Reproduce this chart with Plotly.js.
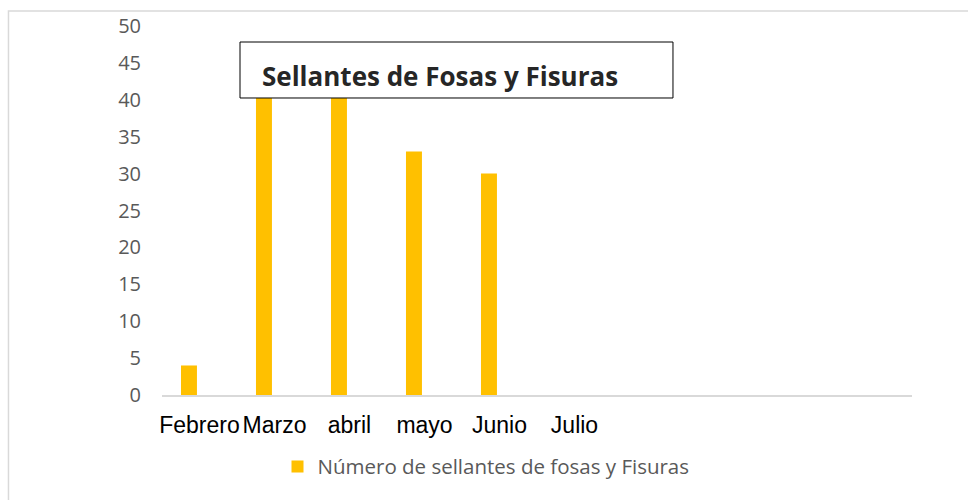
<!DOCTYPE html>
<html>
<head>
<meta charset="utf-8">
<script src="https://cdn.plot.ly/plotly-3.0.1.min.js"></script>
<style>
  html, body { margin: 0; padding: 0; background: #fff; }
  #chart { width: 968px; height: 500px; }
</style>
</head>
<body>
<div id="chart"></div>
<script>
// Data
const months = ["Febrero", "Marzo", "abril", "mayo", "Junio", "Julio"];
const sellantes = [4, 42, 42, 33, 30, null];
const seriesName = "Número de sellantes de fosas y Fisuras";
const chartTitle = "Sellantes de Fosas y Fisuras";
const yTicks = [0, 5, 10, 15, 20, 25, 30, 35, 40, 45, 50];

const trace = {
  type: "bar",
  x: months,
  y: sellantes,
  name: seriesName,
  marker: { color: "#FFC000" },
  width: 0.213,
  offset: -0.247,
  showlegend: true
};

const layout = {
  width: 968,
  height: 500,
  margin: { l: 162, r: 56, t: 26, b: 105 },
  paper_bgcolor: "#ffffff",
  plot_bgcolor: "#ffffff",
  showlegend: true,
  xaxis: {
    type: "category",
    categoryorder: "array",
    categoryarray: months,
    range: [-0.5, 9.5],
    showgrid: false,
    zeroline: false,
    showline: true,
    linecolor: "#d9d9d9",
    linewidth: 2,
    ticks: "",
    ticklabelstandoff: 8,
    tickfont: { family: "Liberation Sans, Arial, sans-serif", size: 23, color: "#000000" },
    fixedrange: true
  },
  yaxis: {
    range: [0, 50],
    tickvals: yTicks,
    showgrid: false,
    zeroline: false,
    showline: false,
    ticks: "",
    ticklabelstandoff: 20,
    tickfont: { family: "Open Sans, sans-serif", size: 20, color: "#595959" },
    fixedrange: true
  },
  legend: {
    orientation: "h",
    x: 0.154,
    xanchor: "left",
    y: -0.14,
    yanchor: "top",
    font: { family: "Open Sans, sans-serif", size: 20.5, color: "#595959" },
    itemwidth: 30
  },
  shapes: [
    {
      type: "rect", xref: "paper", yref: "paper",
      x0: -0.2047, x1: 1.3, y0: -0.5, y1: 1.0407,
      line: { color: "#d9d9d9", width: 1.5 },
      fillcolor: "rgba(0,0,0,0)",
      layer: "below"
    },
    {
      type: "rect", xref: "paper", yref: "paper",
      x0: 0.104, x1: 0.6813, y0: 0.8049, y1: 0.9566,
      line: { color: "#000000", width: 1 },
      fillcolor: "#ffffff",
      layer: "above"
    }
  ],
  annotations: [
    {
      text: "<b>" + chartTitle + "</b>",
      xref: "paper", yref: "paper",
      x: 0.1307, xanchor: "left",
      y: 0.8645, yanchor: "middle",
      showarrow: false,
      font: { family: "Open Sans, sans-serif", size: 26, color: "#262626" }
    }
  ]
};

Plotly.newPlot("chart", [trace], layout, { displayModeBar: false, staticPlot: true });
</script>
</body>
</html>
